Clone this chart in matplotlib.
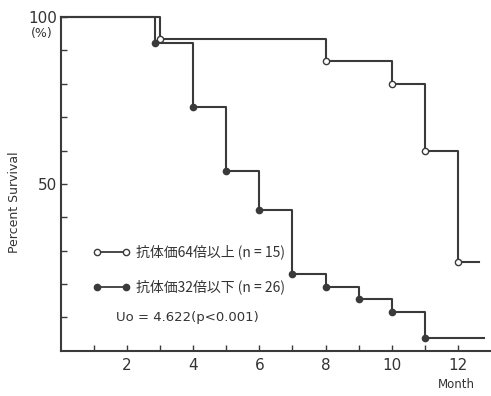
import numpy as np
import matplotlib.pyplot as plt
from matplotlib.lines import Line2D

# Kaplan-Meier style survival, two antibody titre groups
high_t = [0, 3, 8, 10, 11, 12, 12.65]
high_s = [100, 93.3, 86.7, 80.0, 60.0, 26.7, 26.7]

low_t = [0, 2.85, 4, 5, 6, 7, 8, 9, 10, 11, 12.8]
low_s = [100, 92.3, 73.1, 53.8, 42.3, 23.1, 19.2, 15.4, 11.5, 3.8, 3.8]

high_label = '抗体価64倍以上 (n = 15)'
low_label = '抗体価32倍以下 (n = 26)'
stat_text = 'Uo = 4.622(p<0.001)'

x_ticks = list(range(1, 13))
x_labels = ['' if m % 2 else str(m) for m in x_ticks]
y_ticks = list(range(10, 101, 10))
y_labels = ['50' if v == 50 else '100' if v == 100 else '' for v in y_ticks]

LINE = '#3a3a3a'
TEXT = '#333333'
JP = ['Noto Sans CJK JP', 'DejaVu Sans']

plt.rcParams['axes.spines.top'] = False
plt.rcParams['axes.spines.right'] = False

fig = plt.figure(figsize=(4.91, 3.96), dpi=100)
ax = fig.add_axes([0.124, 0.114, 0.876, 0.843])

ax.step(high_t, high_s, where='post', color=LINE, lw=1.5, clip_on=False)
ax.plot(high_t[1:-1], high_s[1:-1], 'o', ms=4.5, mfc='white', mec=LINE,
        mew=1.0, clip_on=False)

ax.step(low_t, low_s, where='post', color=LINE, lw=1.5, clip_on=False)
ax.plot(low_t[1:-1], low_s[1:-1], 'o', ms=4.5, mfc=LINE, mec=LINE,
        clip_on=False)

ax.set_xlim(0, 13)
ax.set_ylim(0, 100)
ax.set_xticks(x_ticks)
ax.set_xticklabels(x_labels)
ax.set_yticks(y_ticks)
ax.set_yticklabels(y_labels)
ax.tick_params(direction='in', length=4, width=1, color=LINE,
               labelsize=11, labelcolor=TEXT, pad=5)
ax.tick_params(axis='y', pad=3)
for side in ('left', 'bottom'):
    ax.spines[side].set_color(LINE)
    ax.spines[side].set_linewidth(1.5)

handles = [
    Line2D([0], [0], color=LINE, lw=1.3, marker='o', ms=4.5,
           mfc='white', mec=LINE, label=high_label),
    Line2D([0], [0], color=LINE, lw=1.3, marker='o', ms=4.5,
           mfc=LINE, mec=LINE, label=low_label),
]
leg = ax.legend(handles=handles, loc='upper left',
                bbox_to_anchor=(0.075, 0.318), frameon=False, numpoints=2,
                handlelength=2.7, handletextpad=0.35, labelspacing=1.45,
                borderpad=0, borderaxespad=0,
                prop={'family': JP, 'size': 10})
for t in leg.get_texts():
    t.set_color(TEXT)

ax.text(0.129, 0.10, stat_text, transform=ax.transAxes, fontsize=9.5,
        color=TEXT, va='center', ha='left')

ax.text(-0.045, 0.95, '(%)', transform=ax.transAxes, fontsize=9,
        color=TEXT, va='center', ha='center')
fig.text(0.03, 0.49, 'Percent Survival', rotation=90, fontsize=9,
         color=TEXT, va='center', ha='center')
fig.text(0.93, 0.028, 'Month', fontsize=8.5, color=TEXT, va='center',
         ha='center')

fig.savefig('out.png', dpi=100)
